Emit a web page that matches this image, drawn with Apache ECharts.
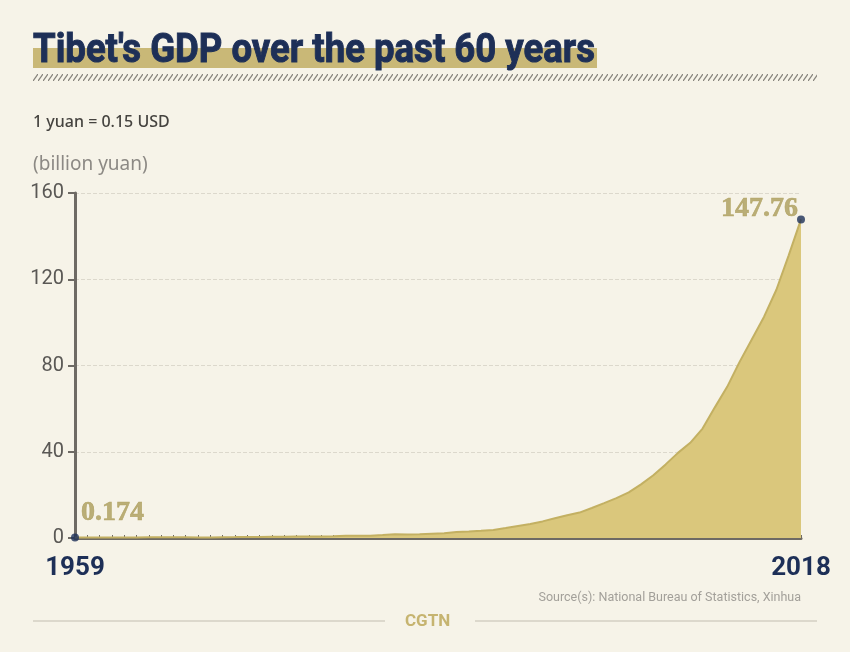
<!DOCTYPE html>
<html><head><meta charset="utf-8">
<script src="https://cdn.jsdelivr.net/npm/echarts@6/dist/echarts.min.js"></script>
<style>html,body{margin:0;padding:0;background:#f6f3e8;}#c{width:850px;height:652px;}</style>
</head><body><div id="c"></div>
<script>
const years = [];
for (let y = 1959; y <= 2018; y++) years.push(String(y));
const gdp = [0.174,0.233,0.223,0.191,0.197,0.237,0.327,0.370,0.323,0.294,
  0.269,0.284,0.339,0.410,0.506,0.510,0.549,0.601,0.649,0.665,
  0.709,0.867,1.057,1.028,1.030,1.368,1.778,1.667,1.727,2.010,
  2.183,2.770,3.005,3.329,3.742,4.599,5.611,6.498,7.698,9.150,
  10.562,11.780,13.916,16.145,18.486,21.199,24.880,29.076,34.143,39.485,
  44.136,50.746,60.583,70.103,81.567,92.083,102.639,115.141,131.092,147.760];
const yTicks = [0,40,80,120,160];
const endLabels = ['0.174','147.76'];

const sans = "Roboto,'Noto Sans',sans-serif";
const noto = "'Noto Sans',Roboto,sans-serif";
const navy = '#1d2f57';
const titleText = "Tibet's GDP over the past 60 years";
const titleFont = "bold 40px " + sans;

// measure title to condense it to the reference width
const mc = document.createElement('canvas').getContext('2d');
mc.font = titleFont;
const titleScale = 562 / mc.measureText(titleText).width;

// hatch pattern
const pc = document.createElement('canvas');
pc.width = 5; pc.height = 7;
const px = pc.getContext('2d');
px.strokeStyle = '#85827b'; px.lineWidth = 1.3;
px.beginPath(); px.moveTo(0,7); px.lineTo(5,0); px.stroke();

const chart = echarts.init(document.getElementById('c'));
chart.setOption({
  backgroundColor: '#f6f3e8',
  animation: false,
  grid: {left: 75, right: 49, top: 193, bottom: 114},
  xAxis: {
    type: 'category', data: years, boundaryGap: false,
    axisLine: {lineStyle: {color: '#6e6a64', width: 3}},
    axisTick: {show: true, inside: true, length: 3, interval: 0, lineStyle: {color: '#6e6a64', width: 1}},
    axisLabel: {
      interval: (i) => i === 0 || i === years.length - 1,
      color: navy, fontFamily: sans, fontWeight: 'bold', fontSize: 26, margin: 17
    },
    splitLine: {show: false}
  },
  yAxis: {
    type: 'value', min: yTicks[0], max: yTicks[yTicks.length-1], interval: 40,
    axisLine: {show: true, lineStyle: {color: '#6e6a64', width: 3}},
    axisTick: {show: true, length: 7, lineStyle: {color: '#6e6a64', width: 2}},
    axisLabel: {color: '#5a5855', fontFamily: sans, fontSize: 20, margin: 11},
    splitLine: {show: true, lineStyle: {color: '#dcd8cc', type: 'dashed', width: 1}}
  },
  series: [
    {
      type: 'line', data: gdp, symbol: 'none', z: 2,
      lineStyle: {color: '#c3b062', width: 2},
      areaStyle: {color: '#dac77c', opacity: 1}
    },
    {
      type: 'scatter', z: 5, symbol: 'circle', symbolSize: 8,
      itemStyle: {color: navy},
      data: [
        {value: [years[0], gdp[0]], label: {show: true, formatter: endLabels[0], position: [10, -7], align: 'left', verticalAlign: 'bottom'}},
        {value: [years[years.length-1], gdp[gdp.length-1]], label: {show: true, formatter: endLabels[1], position: [1, 7], align: 'right', verticalAlign: 'bottom'}}
      ],
      label: {color: '#ab9c5a', fontFamily: "'Liberation Serif','DejaVu Serif',serif", fontWeight: 'bold', fontSize: 28,
        textBorderColor: '#ab9c5a', textBorderWidth: 0.6}
    }
  ],
  graphic: [
    {type: 'rect', left: 33, top: 48, shape: {width: 564, height: 20}, style: {fill: '#c9b877'}, z: 1},
    {type: 'text', x: 33, y: 32, scaleX: titleScale, style: {text: titleText, fill: navy, font: titleFont, verticalAlign: 'top', stroke: navy, lineWidth: 1}, z: 2},
    {type: 'rect', left: 33, top: 74, shape: {width: 784, height: 7}, style: {fill: {image: pc, repeat: 'repeat'}}, z: 1},
    {type: 'text', left: 33, top: 114, style: {text: '1 yuan = 0.15 USD', fill: '#45433f', font: "500 16px " + noto}},
    {type: 'text', left: 33, top: 155, style: {text: '(billion yuan)', fill: '#8c8984', font: "19px " + noto}},
    {type: 'text', right: 49, top: 591, style: {text: 'Source(s): National Bureau of Statistics, Xinhua', fill: '#a3a09a', font: "12.5px " + sans, align: 'right'}},
    {type: 'line', shape: {x1: 33, y1: 621, x2: 385, y2: 621}, style: {stroke: '#d3cfc3', lineWidth: 1.5}},
    {type: 'line', shape: {x1: 475, y1: 621, x2: 817, y2: 621}, style: {stroke: '#d3cfc3', lineWidth: 1.5}},
    {type: 'text', left: 405, top: 613, style: {text: 'CGTN', fill: '#c6b470', font: "bold 17px " + sans}}
  ]
});
</script>
</body></html>
